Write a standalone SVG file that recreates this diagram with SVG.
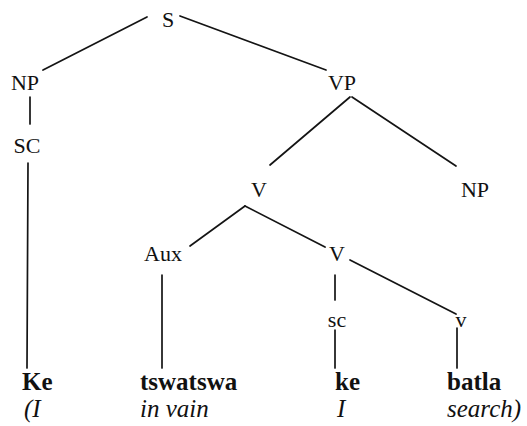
<svg xmlns="http://www.w3.org/2000/svg" width="527" height="426" viewBox="0 0 527 426">
  <rect width="527" height="426" fill="#ffffff"/>

  <!-- tree branches -->
  <g id="edges" stroke="#141414" stroke-width="1.7" stroke-linecap="round" fill="none">
    <line x1="147" y1="17" x2="43" y2="70"/>
    <line x1="180" y1="16" x2="326" y2="70"/>
    <line x1="30" y1="97" x2="30" y2="124"/>
    <line x1="28" y1="163" x2="27" y2="368"/>
    <line x1="350" y1="97" x2="270" y2="165"/>
    <line x1="352" y1="97" x2="456" y2="166"/>
    <line x1="245" y1="206" x2="190" y2="246"/>
    <line x1="245" y1="206" x2="325" y2="247"/>
    <line x1="162" y1="275" x2="162" y2="368"/>
    <line x1="335" y1="275" x2="335" y2="300"/>
    <line x1="350" y1="260" x2="456" y2="314"/>
    <line x1="335" y1="330" x2="335" y2="368"/>
    <line x1="457" y1="328" x2="457" y2="368"/>
  </g>

  <!-- category labels -->
  <g id="categories" font-family="Liberation Serif" font-size="22" fill="#111111" text-anchor="middle">
    <g id="node-S"><text x="168" y="27">S</text></g>
    <g id="node-NP-subj"><text x="25" y="90">NP</text></g>
    <g id="node-SC"><text x="27" y="153">SC</text></g>
    <g id="node-VP"><text x="342" y="90">VP</text></g>
    <g id="node-V-top"><text x="259" y="197">V</text></g>
    <g id="node-NP-obj"><text x="475" y="197">NP</text></g>
    <g id="node-Aux"><text x="163" y="261">Aux</text></g>
    <g id="node-V-low"><text x="337" y="261">V</text></g>
    <g id="node-sc"><text x="337" y="327">sc</text></g>
    <g id="node-v"><text x="461" y="327">v</text></g>
  </g>

  <!-- Setswana words (bold) with English glosses (italic) -->
  <g id="leaves" font-family="Liberation Serif" font-size="25" fill="#111111">
    <g id="leaf-Ke">
      <text x="22" y="390" font-weight="bold">Ke</text>
      <text x="24" y="417" font-style="italic">(I</text>
    </g>
    <g id="leaf-tswatswa">
      <text x="140" y="390" font-weight="bold">tswatswa</text>
      <text x="140" y="417" font-style="italic">in vain</text>
    </g>
    <g id="leaf-ke">
      <text x="335" y="390" font-weight="bold">ke</text>
      <text x="337" y="417" font-style="italic">I</text>
    </g>
    <g id="leaf-batla">
      <text x="447" y="390" font-weight="bold">batla</text>
      <text x="447" y="417" font-style="italic">search)</text>
    </g>
  </g>
</svg>
